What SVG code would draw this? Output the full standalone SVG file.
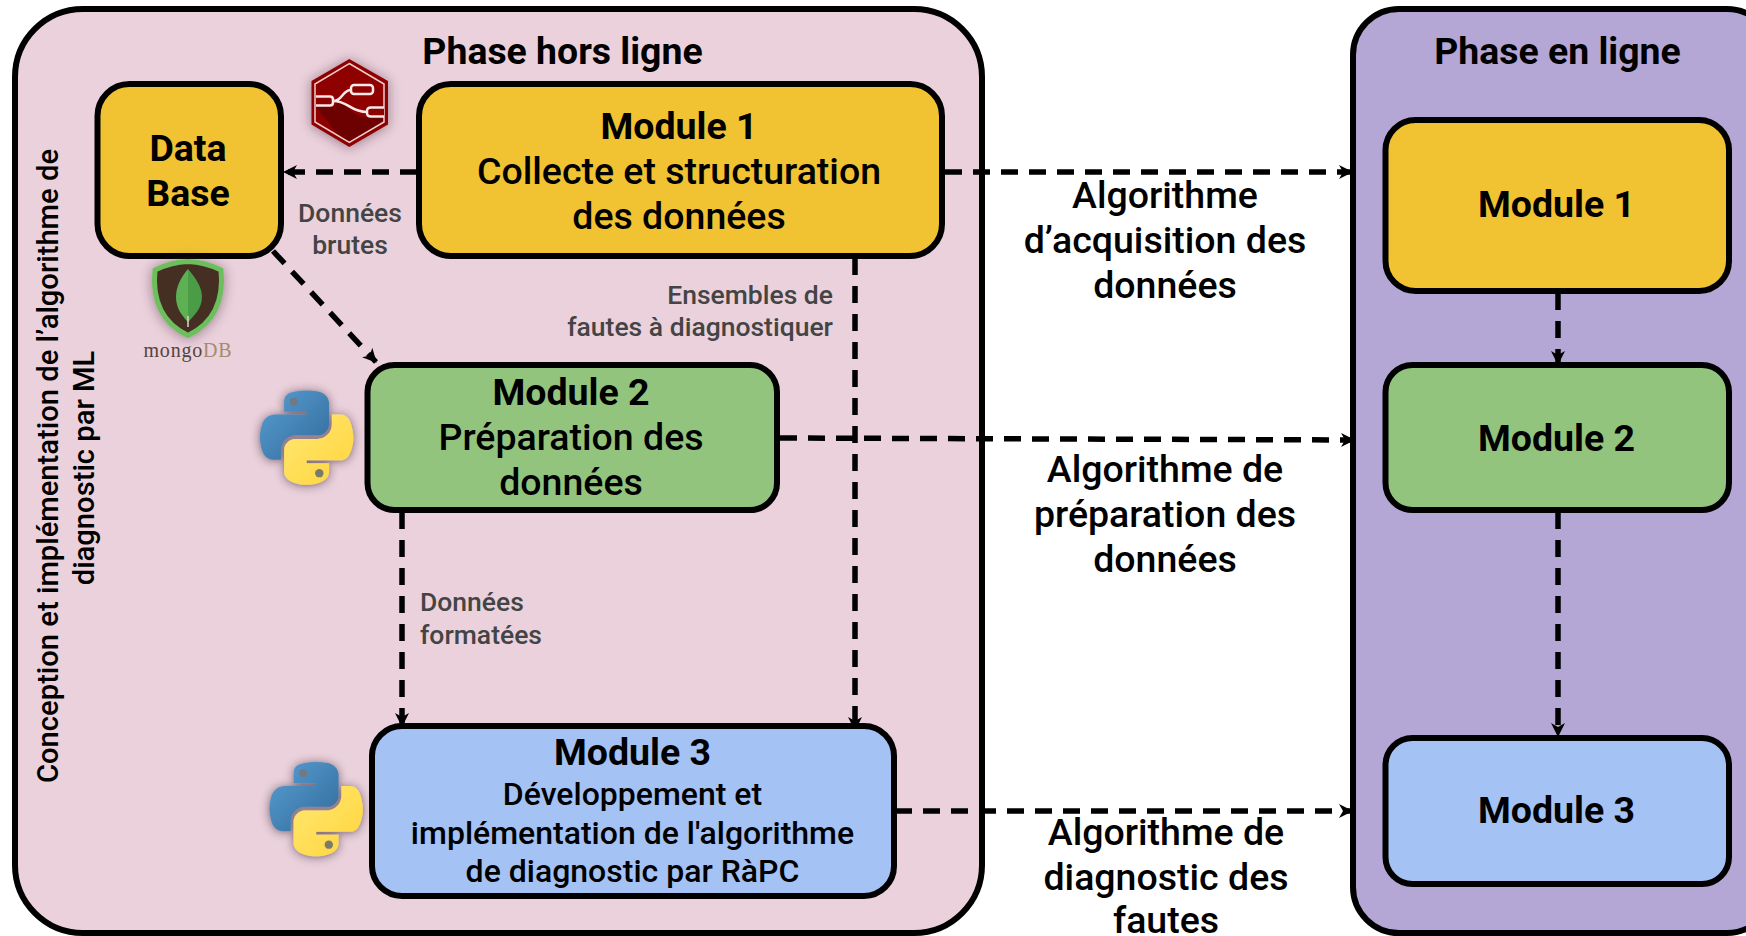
<svg xmlns="http://www.w3.org/2000/svg" width="1746" height="936" viewBox="0 0 1746 936">
<style>
text{font-family:Roboto,"Liberation Sans",sans-serif;fill:#000;text-anchor:middle}
.box{stroke:#000;stroke-width:6}
.t{font-size:37.5px;font-weight:700}
.b{font-size:37.5px;font-weight:500}
.m{font-size:32px;font-weight:500}
.h{font-size:37.4px;font-weight:700}
.e{font-size:26.5px;font-weight:500;fill:#444}
.v{font-size:29.2px;font-weight:500}
.c{fill:none;stroke:#000;stroke-width:5.5;stroke-dasharray:17 11}
.y{fill:#f1c232}.g{fill:#93c47d}.l{fill:#a4c2f4}
</style>
<defs>
<marker id="arr" viewBox="0 0 14 14" refX="13" refY="7" markerWidth="14" markerHeight="14" markerUnits="userSpaceOnUse" orient="auto"><path d="M0,0 L14,7 L0,14 L4,7 Z" fill="#000"/></marker>
<linearGradient id="pb" x1="0" y1="0" x2="1" y2="1"><stop offset="0" stop-color="#5a9fd4"/><stop offset="1" stop-color="#306998"/></linearGradient>
<linearGradient id="py" x1="0" y1="0" x2="1" y2="1"><stop offset="0" stop-color="#ffe873"/><stop offset="1" stop-color="#ffd43b"/></linearGradient>
<filter id="sh" x="-30%" y="-30%" width="160%" height="160%"><feDropShadow dx="0" dy="1" stdDeviation="6" flood-color="#3a2030" flood-opacity="0.65"/></filter>
<filter id="sh2" x="-30%" y="-30%" width="160%" height="160%"><feDropShadow dx="0" dy="1" stdDeviation="6" flood-color="#402030" flood-opacity="0.5"/></filter>
<g id="py-logo" filter="url(#sh)">
<path fill="url(#pb)" d="M54.9,0C50.3,0 46,0.4 42.1,1.1C30.8,3.1 28.7,7.3 28.7,15V25.3H55.5V28.7H18.6C10.8,28.7 4,33.3 1.9,42.3C-0.6,52.3 -0.7,58.6 1.9,69C3.8,76.8 8.2,82.3 16,82.3H25.3V70C25.3,61.2 32.9,53.4 42.1,53.4H68.9C76.3,53.4 82.2,47.2 82.2,39.8V15C82.2,7.8 76.1,2.4 68.9,1.1C64.3,0.3 59.5,0 54.9,0Z"/>
<circle cx="40.4" cy="13.3" r="5" fill="#6f7a85"/>
<path fill="url(#py)" d="M85.6,28.7V40.6C85.6,49.8 77.8,57.6 68.9,57.6H42.1C34.8,57.6 28.7,63.8 28.7,71.2V96.7C28.7,104 35,108.2 42.1,110.3C50.6,112.8 58.8,113.2 68.9,110.3C75.6,108.4 82.2,104.5 82.2,96.7V86.5H55.5V83.1H95.7C103.5,83.1 106.4,77.7 109.1,69.5C111.9,61.1 111.8,53 109.1,42.3C107.2,34.5 103.5,28.7 95.7,28.7Z"/>
<circle cx="70.6" cy="98.4" r="5" fill="#7a7a6a"/>
</g>
</defs>
<rect width="1746" height="936" fill="#fff"/>
<g id="phase-hors-ligne">
<rect class="box" x="15" y="9" width="967" height="924" rx="68" fill="#ead1dc"/>
<text class="h" x="562.500" y="64">Phase hors ligne</text>
<text class="v" transform="translate(58,466) rotate(-90)">Conception et implémentation de l’algorithme de</text>
<text class="v" transform="translate(94,468) rotate(-90)">diagnostic par ML</text>
</g>
<g id="phase-en-ligne">
<rect class="box" x="1353" y="9" width="420" height="924" rx="46" fill="#b4a7d6"/>
<text class="h" x="1557.500" y="64">Phase en ligne</text>
</g>
<g id="connectors">
<path class="c" marker-end="url(#arr)" d="M417,172H284"/>
<path class="c" marker-end="url(#arr)" d="M273,251L376,362"/>
<path class="c" marker-end="url(#arr)" d="M945,172H1352"/>
<path class="c" marker-end="url(#arr)" d="M855,258V730"/>
<path class="c" marker-end="url(#arr)" d="M780,438L1354,440"/>
<path class="c" marker-end="url(#arr)" d="M402,512V726"/>
<path class="c" marker-end="url(#arr)" d="M895,811H1352"/>
<path class="c" marker-end="url(#arr)" d="M1558,293V364"/>
<path class="c" marker-end="url(#arr)" d="M1558,512V736"/>
</g>
<g id="data-base">
<rect class="box y" x="97.500" y="84" width="183.500" height="172" rx="32"/>
<text class="t" x="188" y="161">Data</text>
<text class="t" x="188" y="206">Base</text>
</g>
<g id="module-1">
<rect class="box y" x="419" y="84" width="523" height="172" rx="32"/>
<text class="t" x="679" y="139">Module 1</text>
<text class="b" x="679" y="184">Collecte et structuration</text>
<text class="b" x="679" y="229">des données</text>
</g>
<g id="module-2">
<rect class="box g" x="367.500" y="365" width="409.500" height="145" rx="27"/>
<text class="t" x="571" y="405">Module 2</text>
<text class="b" x="571" y="450">Préparation des</text>
<text class="b" x="571" y="495">données</text>
</g>
<g id="module-3">
<rect class="box l" x="372" y="726" width="522" height="170" rx="30"/>
<text class="t" x="632.500" y="765">Module 3</text>
<text class="m" x="632.500" y="805">Développement et</text>
<text class="m" x="632.500" y="843.500">implémentation de l'algorithme</text>
<text class="m" x="632.500" y="881.500">de diagnostic par RàPC</text>
</g>
<g id="online-module-1">
<rect class="box y" x="1385.500" y="120" width="343.500" height="171" rx="30"/>
<text class="t" x="1556.500" y="217">Module 1</text>
</g>
<g id="online-module-2">
<rect class="box g" x="1385.500" y="365" width="343.500" height="145" rx="27"/>
<text class="t" x="1556.500" y="451">Module 2</text>
</g>
<g id="online-module-3">
<rect class="box l" x="1385.500" y="738" width="343.500" height="146" rx="27"/>
<text class="t" x="1556.500" y="823">Module 3</text>
</g>
<g id="labels">
<text class="e" x="350" y="222">Données</text><text class="e" x="350" y="254">brutes</text>
<text class="e" style="text-anchor:end" x="833" y="304">Ensembles de</text>
<text class="e" style="text-anchor:end" x="833" y="336">fautes à diagnostiquer</text>
<text class="e" style="text-anchor:start" x="420" y="611">Données</text>
<text class="e" style="text-anchor:start" x="420" y="643.500">formatées</text>
<text class="b" x="1165" y="208">Algorithme</text><text class="b" x="1165" y="253">d’acquisition des</text><text class="b" x="1165" y="298">données</text>
<text class="b" x="1165" y="482">Algorithme de</text><text class="b" x="1165" y="527">préparation des</text><text class="b" x="1165" y="572">données</text>
<text class="b" x="1166" y="845">Algorithme de</text><text class="b" x="1166" y="890">diagnostic des</text><text class="b" x="1166" y="933">fautes</text>
</g>
<g id="python-1"><use href="#py-logo" transform="translate(260,390.500) scale(0.84)"/></g>
<g id="python-2"><use href="#py-logo" transform="translate(269.500,762) scale(0.84)"/></g>
<g id="node-red" filter="url(#sh2)">
<path d="M349.300,59L388,81V124.500L349.300,147L311.500,124.500V81Z" fill="#8f0000"/>
<path d="M316,107H334L340,101C350,107 352,117 367,117H384V123L349.300,143L340,137Z" fill="#6d0000"/>
<path d="M349.300,63.500L384,84V122L349.300,142.500L315,122V84Z" fill="none" stroke="#f0cccc" stroke-width="1.500"/>
<path d="M333,101C343,101 342,90 351,90M333,101C349,101 350,112 367,112" fill="none" stroke="#f8e8e8" stroke-width="2.500"/>
<rect x="351" y="85" width="22" height="9" rx="3" fill="#8f0000" stroke="#f8e8e8" stroke-width="2.500"/>
<path d="M384,107.500H371Q367,107.500 367,111V113Q367,116.500 371,116.500H384" fill="#8f0000" stroke="#f8e8e8" stroke-width="2.500"/>
<path d="M316,96.500H330Q333,96.500 333,99.500V102.500Q333,105.500 330,105.500H316" fill="#8f0000" stroke="#f8e8e8" stroke-width="2.500"/>
</g>
<g id="mongodb">
<path filter="url(#sh2)" d="M188,261.500C176,262 165,265 155,270C152,300 162,323 188,335.500C214,323 224,300 221,270C211,265 200,262 188,261.500Z" fill="#442d20" stroke="#6cbf5c" stroke-width="5"/>
<path d="M188,269C180,278 176,288 176,297C176,308 182,316 188,322Z" fill="#5db154"/>
<path d="M188,269C196,278 202,288 202,297C202,308 194,316 188,322Z" fill="#4b9c47"/>
<path d="M188,316V327" stroke="#d8d8c8" stroke-width="1.500"/>
<text x="188" y="356.500" style="font-family:'Liberation Serif',serif;font-size:20px;letter-spacing:.8px"><tspan style="fill:#54443c">mongo</tspan><tspan style="fill:#a58b6f">DB</tspan></text>
</g>
</svg>
